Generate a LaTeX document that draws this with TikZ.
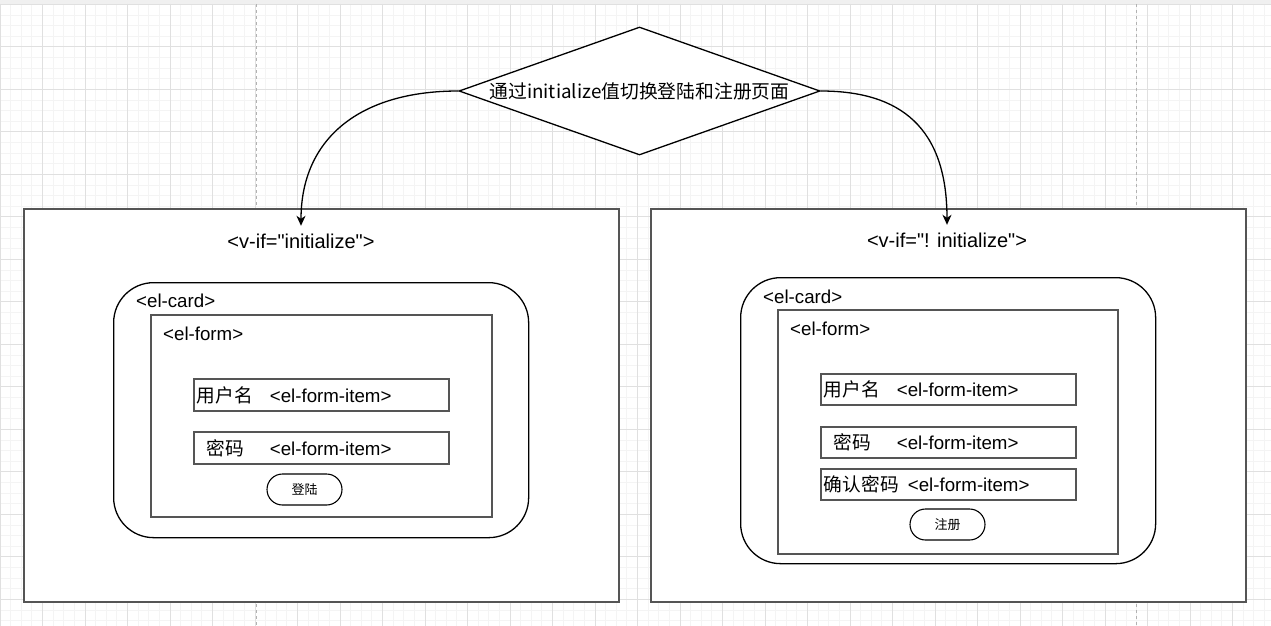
\documentclass[tikz,border=0pt]{standalone}
\usepackage{fontspec}
\setmainfont{Liberation Sans}
\newfontfamily\cjk{Noto Sans CJK SC}
\usetikzlibrary{arrows.meta,shapes.geometric}

\definecolor{boxgray}{HTML}{555555}
\definecolor{minorgray}{HTML}{F4F4F4}
\definecolor{majorgray}{HTML}{E0E0E0}
\newcommand{\qt}{\textquotedbl}

\begin{document}
\begin{tikzpicture}[x=1pt, y=-1pt,
	flow/.style={line width=1.3pt, -{Stealth[length=10pt,width=9pt,inset=3pt]}},
	sized/.style 2 args={minimum width=#1pt, minimum height=#2pt},
	pagebox/.style={draw=boxgray, line width=2pt, fill=white, anchor=north west, inner sep=0pt},
	cardbox/.style={draw=black, line width=1.3pt, rounded corners=40pt, anchor=north west, inner sep=0pt},
	formbox/.style={draw=boxgray, line width=1.6pt, anchor=north west, inner sep=0pt},
	itembox/.style={draw=boxgray, line width=1.8pt, anchor=north west, minimum height=32pt,
		inner xsep=3pt, inner ysep=0pt, text width=249pt, align=left, font=\fontsize{18.7}{22}\selectfont},
	btn/.style={draw, line width=1.1pt, rounded corners=15.5pt, sized={75}{31}, inner sep=0pt,
		font=\cjk\fontsize{13}{15}\selectfont},
	tag/.style={anchor=west, inner sep=0pt, font=\fontsize{18.7}{22}\selectfont},
	vif/.style={inner sep=0pt, minimum height=30pt, font=\fontsize{20}{24}\selectfont},
	decision/.style={diamond, draw, line width=1.3pt, fill=white, sized={361}{128}, inner sep=0pt,
		label={[font=\cjk\fontsize{18.8}{21}\selectfont]center:#1}}
]
\useasboundingbox (0,0) rectangle (1271,626);

% background grid
\fill[black!6] (0,0) rectangle (1271,4);
\foreach \i in {0,...,120}
	\draw[minorgray, line width=0.8pt] ({\i*10.625},4) -- ({\i*10.625},626);
\foreach \j in {0,...,58}
	\draw[minorgray, line width=0.8pt] (0,{4.3+\j*10.625}) -- (1271,{4.3+\j*10.625});
\foreach \i in {0,...,30}
	\draw[majorgray, line width=0.8pt] ({\i*42.5},4) -- ({\i*42.5},626);
\foreach \j in {0,...,14}
	\draw[majorgray, line width=0.8pt] (0,{4.3+\j*42.5}) -- (1271,{4.3+\j*42.5});
\draw[black!30, dashed, line width=0.8pt] (256,4) -- (256,626);
\draw[black!30, dashed, line width=0.8pt] (1136,4) -- (1136,626);

% switch
\node[decision={通过initialize值切换登陆和注册页面}] (switch) at (639.5,91) {};

% login page
\node[pagebox, sized={595}{393}] (pageL) at (23,208) {};
\node[vif] (vifL) at (301,241) {<v-if=\qt initialize\qt>};
\node[cardbox, sized={415}{255}] (cardL) at (113,282) {};
\node[tag] (cardtagL) at (136,301) {<el-card>};
\node[formbox, sized={341}{202}] (formL) at (150,314) {};
\node[tag] (formtagL) at (163,334) {<el-form>};
\node[itembox] (userL) at (193,378) {\makebox[73pt][l]{\cjk 用户名}<el-form-item>};
\node[itembox] (pwdL) at (193,431) {\hspace*{10pt}\makebox[63pt][l]{\cjk 密码}<el-form-item>};
\node[btn] (loginL) at (304.5,489.5) {登陆};

% register page
\node[pagebox, sized={595}{393}] (pageR) at (650,208) {};
\node[vif] (vifR) at (947,240) {<v-if=\qt! initialize\qt>};
\node[cardbox, sized={415}{286}] (cardR) at (740,277) {};
\node[tag] (cardtagR) at (763,297) {<el-card>};
\node[formbox, sized={340}{244}] (formR) at (777,309) {};
\node[tag] (formtagR) at (790,329) {<el-form>};
\node[itembox, minimum height=31pt] (userR) at (820,373) {\makebox[73pt][l]{\cjk 用户名}<el-form-item>};
\node[itembox, minimum height=31pt] (pwdR) at (820,426) {\hspace*{10pt}\makebox[63pt][l]{\cjk 密码}<el-form-item>};
\node[itembox, minimum height=31pt] (confirmR) at (820,468) {\makebox[84pt][l]{\cjk 确认密码}<el-form-item>};
\node[btn] (registerR) at (947.5,524.5) {注册};

% branches
\draw[flow] (switch.west) .. controls +(-99,0) and +(0,-87) .. (vifL.north);
\draw[flow] (switch.east) .. controls +(80,0) and +(0,-97) .. (vifR.north);
\end{tikzpicture}
\end{document}
